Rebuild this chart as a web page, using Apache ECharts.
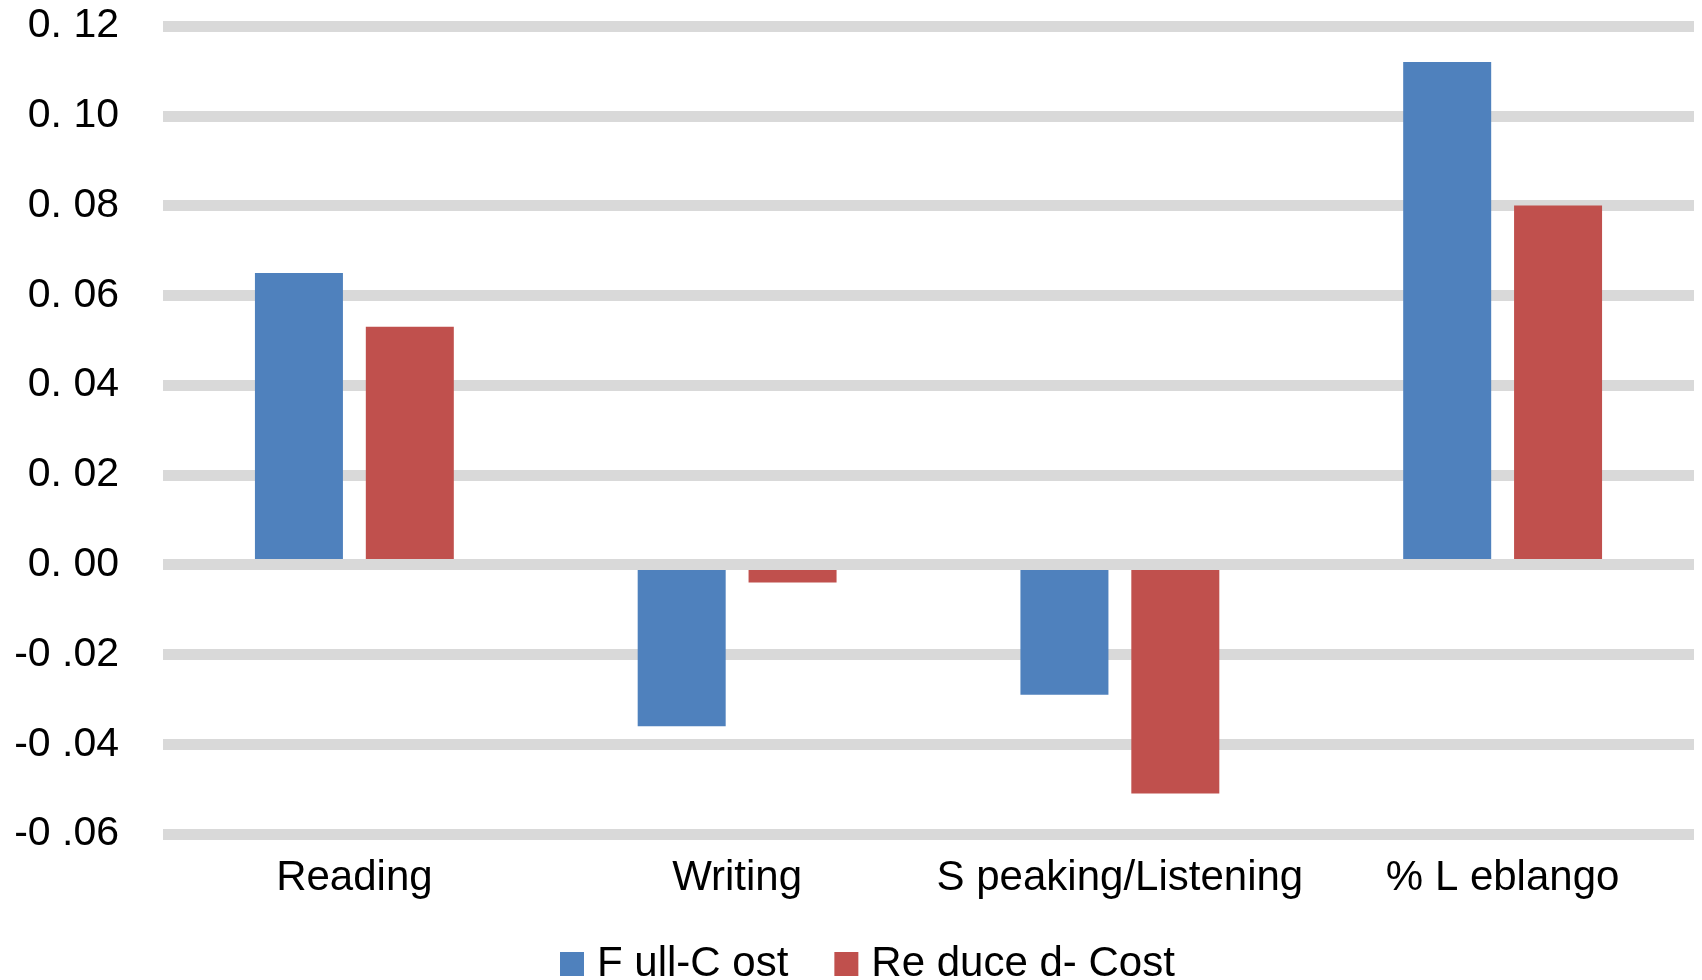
<!DOCTYPE html>
<html>
<head>
<meta charset="utf-8">
<style>
  html, body { margin: 0; padding: 0; background: #ffffff; }
  #chart { width: 1702px; height: 980px; }
</style>
<script src="https://cdn.jsdelivr.net/npm/echarts@6/dist/echarts.min.js"></script>
</head>
<body>
<div id="chart"></div>
<script>
// Categories along the x axis
const categories = ['Reading', 'Writing', 'S peaking/Listening', '% L eblango'];

// Series values
const fullCost = [0.065, -0.036, -0.029, 0.112];
const reducedCost = [0.053, -0.004, -0.051, 0.080];

// Series names as shown in the legend
const seriesNames = ['F ull-C ost', 'Re duce d- Cost'];

// Y axis tick labels, bottom to top
const yTickValues = [-0.06, -0.04, -0.02, 0.00, 0.02, 0.04, 0.06, 0.08, 0.10, 0.12];
const yTickLabels = ['-0 .06', '-0 .04', '-0 .02', '0. 00', '0. 02', '0. 04', '0. 06', '0. 08', '0. 10', '0. 12'];

const FONT = 'Liberation Sans, Arial, sans-serif';
const GRID_GREY = '#d9d9d9';

function tickLabel(v) {
  const key = Math.round(v * 100);
  for (let i = 0; i < yTickValues.length; i++) {
    if (Math.round(yTickValues[i] * 100) === key) return yTickLabels[i];
  }
  return '';
}

const chart = echarts.init(document.getElementById('chart'), null, { renderer: 'canvas' });

chart.setOption({
  backgroundColor: '#ffffff',
  animation: false,
  grid: { left: 163, right: 8, top: 26, bottom: 146, containLabel: false },
  legend: {
    data: seriesNames,
    left: 555,
    top: 938,
    itemWidth: 24,
    itemHeight: 24,
    itemGap: 46,
    icon: 'rect',
    textStyle: { fontFamily: FONT, fontSize: 42, color: '#000000', padding: [0, 0, 0, 8] }
  },
  xAxis: [
    {
      // labelled category axis along the bottom of the plot
      type: 'category',
      data: categories,
      position: 'bottom',
      axisLine: { show: false, onZero: false },
      axisTick: { show: false },
      splitLine: { show: false },
      axisLabel: { fontFamily: FONT, fontSize: 42, color: '#000000', margin: 23, interval: 0 }
    },
    {
      // horizontal axis line at zero, drawn over the bars
      type: 'category',
      data: categories,
      position: 'top',
      z: 10,
      axisLine: { show: true, onZero: true, lineStyle: { color: GRID_GREY, width: 11, cap: 'butt' } },
      axisTick: { show: false },
      axisLabel: { show: false },
      splitLine: { show: false }
    }
  ],
  yAxis: {
    type: 'value',
    min: -0.06,
    max: 0.12,
    interval: 0.02,
    axisLine: { show: false },
    axisTick: { show: false },
    splitLine: { show: true, lineStyle: { color: GRID_GREY, width: 11 } },
    axisLabel: {
      fontFamily: FONT,
      fontSize: 41,
      color: '#000000',
      margin: 44,
      formatter: tickLabel
    }
  },
  series: [
    {
      name: seriesNames[0],
      type: 'bar',
      data: fullCost,
      barWidth: 88,
      barGap: '26%',
      itemStyle: { color: '#4f81bd' }
    },
    {
      name: seriesNames[1],
      type: 'bar',
      data: reducedCost,
      barWidth: 88,
      barGap: '26%',
      itemStyle: { color: '#c0504d' }
    }
  ]
});
</script>
</body>
</html>
